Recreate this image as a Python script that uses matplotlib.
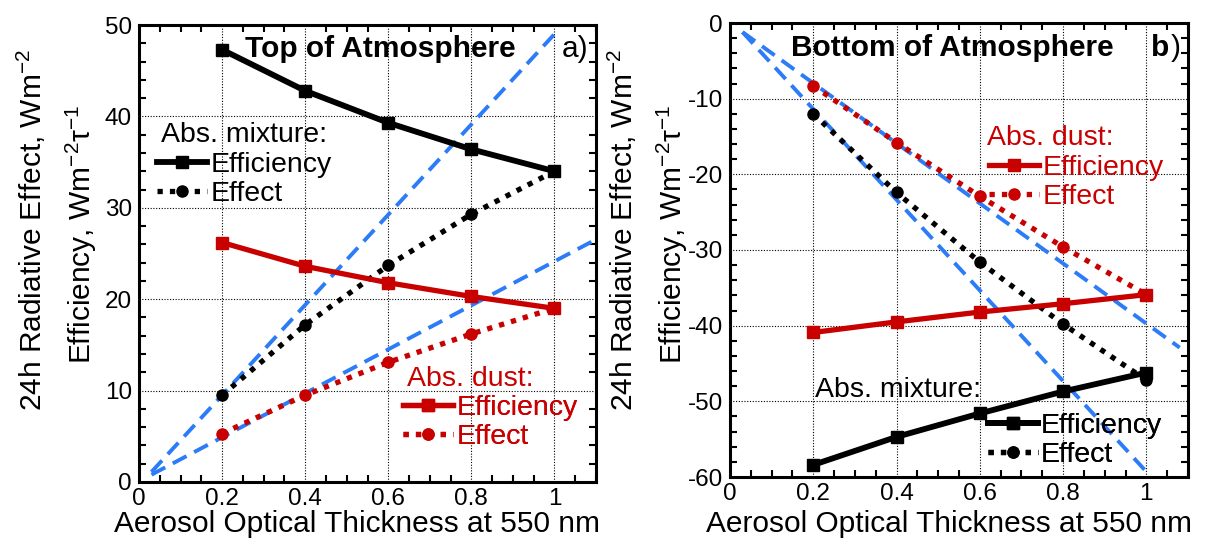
import matplotlib.pyplot as plt
from matplotlib.ticker import MultipleLocator

plt.rcParams['font.family'] = ['Liberation Sans', 'DejaVu Sans']
plt.rcParams['mathtext.fontset'] = 'custom'
plt.rcParams['mathtext.rm'] = 'Liberation Sans'
plt.rcParams['mathtext.it'] = 'Liberation Sans'
plt.rcParams['axes.unicode_minus'] = False

aot = [0.2, 0.4, 0.6, 0.8, 1.0]

# top of atmosphere
toa_mix_eff = [47.3, 42.8, 39.3, 36.4, 34.0]
toa_mix_effect = [9.5, 17.2, 23.7, 29.3, 34.0]
toa_dust_eff = [26.2, 23.6, 21.8, 20.3, 19.0]
toa_dust_effect = [5.3, 9.5, 13.1, 16.2, 19.0]
toa_ref_x = [0.03, 1.01]
toa_ref1 = [1.1, 49.5]
toa_ref2_x = [0.03, 1.09]
toa_ref2 = [0.8, 26.3]

# bottom of atmosphere
boa_mix_eff = [-58.4, -54.7, -51.6, -48.7, -46.2]
boa_mix_effect = [-12.0, -22.4, -31.6, -39.8, -47.2]
boa_dust_eff = [-40.9, -39.5, -38.2, -37.1, -35.9]
boa_dust_effect = [-8.3, -15.8, -22.9, -29.6, -35.9]
boa_ref_x = [0.03, 1.0]
boa_ref1 = [-1.2, -59.3]
boa_ref2_x = [0.03, 1.08]
boa_ref2 = [-1.2, -42.9]

red = '#c80000'
blue = '#2c7cf8'

W, H = 1212, 544
fig = plt.figure(figsize=(W / 100, H / 100), dpi=100)
ax1 = fig.add_axes([139 / W, 1 - 482 / H, 457 / W, 457 / H])
ax2 = fig.add_axes([730 / W, 1 - 477 / H, 458 / W, 454 / H])


def draw(ax, mix_eff, mix_effect, dust_eff, dust_effect, rx1, r1, rx2, r2):
    dots = (0, (1, 1.35))
    ax.plot(rx1, r1, color=blue, lw=2.8, ls=(0, (4, 2.2)), zorder=2)
    ax.plot(rx2, r2, color=blue, lw=2.8, ls=(0, (4, 2.2)), zorder=2)
    me, = ax.plot(aot, mix_eff, color='black', lw=4.2, marker='s', ms=8.5, zorder=4)
    mf, = ax.plot(aot, mix_effect, color='black', lw=3.8, ls=dots, dash_capstyle='butt',
                  marker='o', ms=8, zorder=3)
    de, = ax.plot(aot, dust_eff, color=red, lw=3.8, marker='s', ms=8, zorder=4)
    df, = ax.plot(aot, dust_effect, color=red, lw=3.8, ls=dots, dash_capstyle='butt',
                  marker='o', ms=8, zorder=3)
    ax.set_xlim(0, 1.1)
    ax.xaxis.set_major_locator(MultipleLocator(0.2))
    ax.xaxis.set_minor_locator(MultipleLocator(0.05))
    ax.yaxis.set_major_locator(MultipleLocator(10))
    ax.yaxis.set_minor_locator(MultipleLocator(2))
    ax.xaxis.set_major_formatter(lambda v, p: '0' if abs(v) < 1e-9 else ('1' if abs(v - 1) < 1e-9 else f'{v:.1f}'))
    ax.tick_params(which='both', direction='in', top=True, right=True, width=1.5)
    ax.tick_params(which='major', length=0, labelsize=17.5)
    ax.tick_params(axis='y', which='major', pad=5)
    ax.tick_params(axis='x', which='major', pad=4)
    ax.tick_params(which='minor', length=5)
    ax.grid(True, which='major', color='black', lw=0.8, ls=(0, (1, 1.5)))
    for s in ax.spines.values():
        s.set_linewidth(2.2)
    return me, mf, de, df


me1, mf1, de1, df1 = draw(ax1, toa_mix_eff, toa_mix_effect, toa_dust_eff, toa_dust_effect,
                          toa_ref_x, toa_ref1, toa_ref2_x, toa_ref2)
ax1.set_ylim(0, 50)
me2, mf2, de2, df2 = draw(ax2, boa_mix_eff, boa_mix_effect, boa_dust_eff, boa_dust_effect,
                          boa_ref_x, boa_ref1, boa_ref2_x, boa_ref2)
ax2.set_ylim(-60, 0)


def entries(ax, handles, color, x, y):
    leg = ax.legend(handles, ['Efficiency', 'Effect'], loc='upper left', bbox_to_anchor=(x, y),
                    frameon=False, fontsize=20.5, handlelength=1.75, handletextpad=0.12,
                    labelspacing=0.11, borderpad=0, borderaxespad=0, labelcolor=color,
                    numpoints=1)
    ax.add_artist(leg)


lab = dict(fontsize=20.5, va='baseline', ha='left')
# panel a
ax1.text(0.048, 0.744, 'Abs. mixture:', transform=ax1.transAxes, color='black', **lab)
entries(ax1, [me1, mf1], 'black', 0.04, 0.722)
ax1.text(0.586, 0.210, 'Abs. dust:', transform=ax1.transAxes, color=red, **lab)
entries(ax1, [de1, df1], red, 0.578, 0.190)
ax1.text(0.232, 0.930, 'Top of Atmosphere', transform=ax1.transAxes, fontsize=21.5,
         fontweight='bold', va='baseline', ha='left')
ax1.text(0.925, 0.930, 'a)', transform=ax1.transAxes, fontsize=21.5, va='baseline', ha='left')
# panel b
ax2.text(0.561, 0.731, 'Abs. dust:', transform=ax2.transAxes, color=red, **lab)
entries(ax2, [de2, df2], red, 0.566, 0.709)
ax2.text(0.186, 0.176, 'Abs. mixture:', transform=ax2.transAxes, color='black', **lab)
entries(ax2, [me2, mf2], 'black', 0.563, 0.141)
ax2.text(0.133, 0.927, 'Bottom of Atmosphere', transform=ax2.transAxes, fontsize=21.5,
         fontweight='bold', va='baseline', ha='left')
ax2.text(0.919, 0.927, 'b', transform=ax2.transAxes, fontsize=21.5, fontweight='bold',
         va='baseline', ha='left')
ax2.text(0.963, 0.927, ')', transform=ax2.transAxes, fontsize=21.5, va='baseline', ha='left')

# axis labels
ylab1 = r'24h Radiative Effect, Wm$^{-2}$'
ylab2 = r'Efficiency, Wm$^{-2}$τ$^{-1}$'
xlab = 'Aerosol Optical Thickness at 550 nm'
yl = dict(rotation=90, rotation_mode='anchor', fontsize=21.5, ha='center', va='baseline')
for x0, xc in ((139, 357), (730, 949)):
    fig.text((x0 - 97) / W, 1 - 230 / H, ylab1, **yl)
    fig.text((x0 - 48) / W, 1 - 234 / H, ylab2, **yl)
    fig.text(xc / W, 1 - 532 / H, xlab, fontsize=21.5, ha='center', va='baseline')

for ax in (ax1, ax2):
    ax.get_xticklabels()[0].set_horizontalalignment('right')

fig.savefig('out.png', dpi=100)
